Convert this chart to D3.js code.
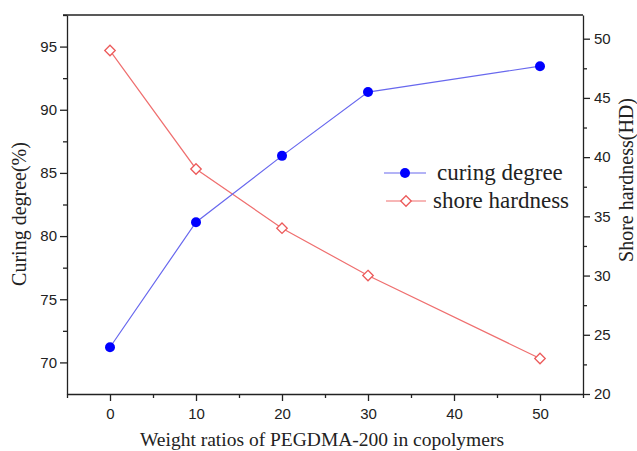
<!DOCTYPE html>
<html>
<head>
<meta charset="utf-8">
<script src="https://cdn.jsdelivr.net/npm/d3@7"></script>
<style>
  body { margin: 0; background: #fff; }
  .axis text { font-family: "Liberation Sans", Arial, sans-serif; font-size: 15px; fill: #222; }
  .axis path, .axis line { stroke: #222; stroke-width: 1.3; }
  .title { font-family: "Liberation Serif", "Times New Roman", serif; fill: #222; }
</style>
</head>
<body>
<svg id="chart" width="637" height="451"></svg>
<script>
var ratios = [0, 10, 20, 30, 50];
var curingDegree = [71.2, 81.1, 86.35, 91.4, 93.45];
var shoreHardness = [49, 39, 34, 30, 23];

var xTicks = [0, 10, 20, 30, 40, 50],
    xMinor = [-5, 5, 15, 25, 35, 45, 55],
    yLeftTicks = [70, 75, 80, 85, 90, 95],
    yLeftMinor = [72.5, 77.5, 82.5, 87.5, 92.5, 97.5],
    yRightTicks = [20, 25, 30, 35, 40, 45, 50],
    yRightMinor = [22.5, 27.5, 32.5, 37.5, 42.5, 47.5];

var svg = d3.select("#chart");

var plotLeft = 67, plotRight = 583, plotTop = 15, plotBottom = 394;

var x = d3.scaleLinear().domain([-5, 55]).range([plotLeft, plotRight]),
    yL = d3.scaleLinear().domain([67.5, 97.5]).range([plotBottom, plotTop]),
    yR = d3.scaleLinear().domain([20, 52]).range([plotBottom, plotTop]);

// top frame line
svg.append("line")
    .attr("x1", plotLeft - 4).attr("x2", plotRight)
    .attr("y1", plotTop).attr("y2", plotTop)
    .attr("stroke", "#222").attr("stroke-width", 1.5);

// bottom axis
svg.append("g").attr("class", "axis")
    .attr("transform", "translate(0," + plotBottom + ")")
    .call(d3.axisBottom(x).tickValues(xTicks).tickSize(7).tickPadding(7).tickSizeOuter(0));
svg.append("g").attr("class", "axis")
    .attr("transform", "translate(0," + plotBottom + ")")
    .call(d3.axisBottom(x).tickValues(xMinor).tickSize(4).tickFormat("").tickSizeOuter(0))
    .select(".domain").remove();

// left axis
svg.append("g").attr("class", "axis")
    .attr("transform", "translate(" + plotLeft + ",0)")
    .call(d3.axisLeft(yL).tickValues(yLeftTicks).tickSize(7).tickPadding(3).tickSizeOuter(0));
svg.append("g").attr("class", "axis")
    .attr("transform", "translate(" + plotLeft + ",0)")
    .call(d3.axisLeft(yL).tickValues(yLeftMinor).tickSize(4).tickFormat("").tickSizeOuter(0))
    .select(".domain").remove();

// right axis
svg.append("g").attr("class", "axis")
    .attr("transform", "translate(" + plotRight + ",0)")
    .call(d3.axisRight(yR).tickValues(yRightTicks).tickSize(7).tickPadding(4).tickSizeOuter(0));
svg.append("g").attr("class", "axis")
    .attr("transform", "translate(" + plotRight + ",0)")
    .call(d3.axisRight(yR).tickValues(yRightMinor).tickSize(4).tickFormat("").tickSizeOuter(0))
    .select(".domain").remove();

// axis titles
svg.append("text").attr("class", "title")
    .attr("x", 322).attr("y", 446)
    .attr("text-anchor", "middle")
    .style("font-size", "19.5px")
    .text("Weight ratios of PEGDMA-200 in copolymers");

svg.append("text").attr("class", "title")
    .attr("transform", "translate(26,214) rotate(-90)")
    .attr("text-anchor", "middle")
    .style("font-size", "20px")
    .text("Curing degree(%)");

svg.append("text").attr("class", "title")
    .attr("transform", "translate(633,180) rotate(-90)")
    .attr("text-anchor", "middle")
    .style("font-size", "20px")
    .text("Shore hardness(HD)");

// lines
var blueLine = d3.line()
    .x(function(d, i) { return x(ratios[i]); })
    .y(function(d) { return yL(d); });
var redLine = d3.line()
    .x(function(d, i) { return x(ratios[i]); })
    .y(function(d) { return yR(d); });

svg.append("path")
    .attr("d", redLine(shoreHardness))
    .attr("fill", "none").attr("stroke", "#ef6f6f").attr("stroke-width", 1.2);
svg.append("path")
    .attr("d", blueLine(curingDegree))
    .attr("fill", "none").attr("stroke", "#6868ee").attr("stroke-width", 1.2);

var diamond = d3.symbol().type(d3.symbolDiamond2).size(70);

svg.selectAll(".hard").data(shoreHardness).enter().append("path")
    .attr("class", "hard")
    .attr("transform", function(d, i) { return "translate(" + x(ratios[i]) + "," + yR(d) + ")"; })
    .attr("d", diamond)
    .attr("fill", "#fff").attr("stroke", "#ec5a5a").attr("stroke-width", 1.3);

svg.selectAll(".cure").data(curingDegree).enter().append("circle")
    .attr("class", "cure")
    .attr("cx", function(d, i) { return x(ratios[i]); })
    .attr("cy", function(d) { return yL(d); })
    .attr("r", 5)
    .attr("fill", "#0000ff");

// legend
var legend = svg.append("g").attr("transform", "translate(384,173)");
legend.append("line").attr("x1", 0).attr("x2", 42).attr("y1", 0).attr("y2", 0)
    .attr("stroke", "#6868ee").attr("stroke-width", 1.2);
legend.append("circle").attr("cx", 21).attr("cy", 0).attr("r", 5).attr("fill", "#0000ff");
legend.append("text").attr("class", "title").attr("x", 53).attr("y", 7)
    .style("font-size", "23px").text("curing degree");

legend.append("line").attr("x1", 2).attr("x2", 42).attr("y1", 28).attr("y2", 28)
    .attr("stroke", "#ef6f6f").attr("stroke-width", 1.2);
legend.append("path").attr("transform", "translate(22,28)").attr("d", diamond)
    .attr("fill", "#fff").attr("stroke", "#ec5a5a").attr("stroke-width", 1.3);
legend.append("text").attr("class", "title").attr("x", 49).attr("y", 35)
    .style("font-size", "23px").text("shore hardness");
</script>
</body>
</html>
